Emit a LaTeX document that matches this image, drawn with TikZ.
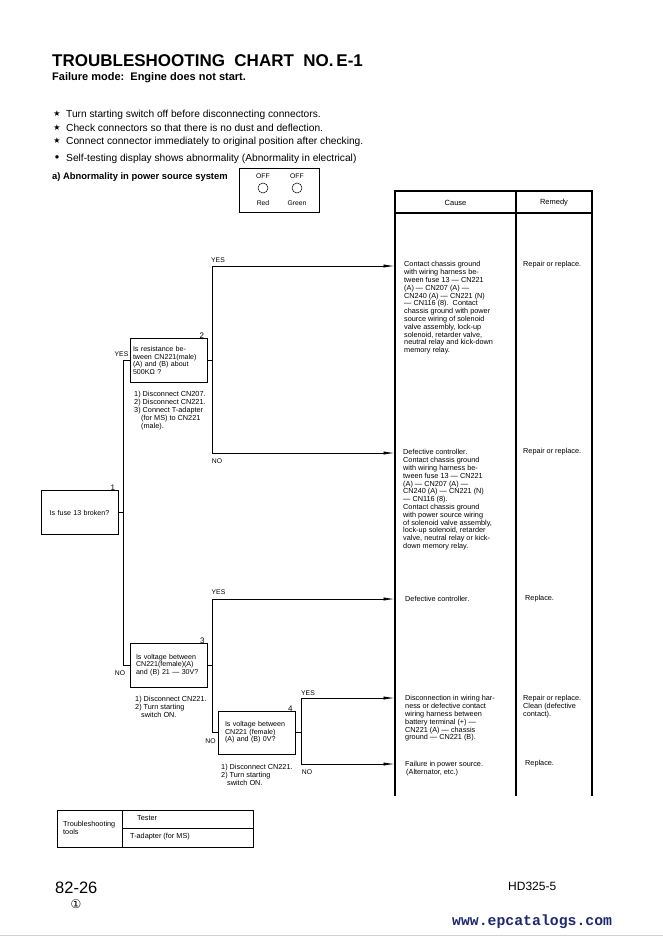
\documentclass[tikz,border=0pt]{standalone}
\usepackage{fontspec}
\setmainfont{Liberation Sans}
\newfontfamily\dejavu{DejaVu Sans}
\newfontfamily\webmono{Liberation Mono}
\usetikzlibrary{arrows.meta}
\definecolor{webblue}{RGB}{30,40,110}
\begin{document}
\begin{tikzpicture}[x=1pt,y=-1pt,
  every node/.style={inner sep=0pt},
  tiny/.style={font=\fontsize{7.3}{7.8}\selectfont, align=left, anchor=north west},
  qbox/.style={draw, line width=0.7pt, minimum width=77pt, minimum height=44pt,
     font=\fontsize{7.1}{7.4}\selectfont, align=left},
  num/.style={font=\fontsize{8}{8}\selectfont, anchor=south east},
  lbl/.style={font=\fontsize{6.8}{7}\selectfont},
  link/.style={line width=0.7pt},
  arr/.style={line width=0.7pt, -{Latex[length=11pt,width=3.2pt]}},
  tbl/.style={line width=1.5pt},
  hdr/.style={font=\fontsize{10.2}{12}\selectfont, anchor=base west},
]
\useasboundingbox (0,0) rectangle (663,937);

% ---- header texts
\node[font=\bfseries\fontsize{17}{20}\selectfont, anchor=base west] (title) at (52,66) {TROUBLESHOOTING\ \ CHART\ \ NO.\,E-1};
\node[font=\bfseries\fontsize{11}{13}\selectfont, anchor=base west] (mode) at (52,80) {Failure mode:\ \ Engine does not start.};

\node[font=\dejavu\fontsize{8}{8}\selectfont] (s1) at (57,113.5) {★};
\node[font=\dejavu\fontsize{8}{8}\selectfont] (s2) at (57,127.5) {★};
\node[font=\dejavu\fontsize{8}{8}\selectfont] (s3) at (57,140.5) {★};
\node[font=\dejavu\fontsize{4.5}{5}\selectfont] (s4) at (57,157.5) {●};
\node[hdr] (t1) at (66,117) {Turn starting switch off before disconnecting connectors.};
\node[hdr] (t2) at (66,131) {Check connectors so that there is no dust and deflection.};
\node[hdr] (t3) at (66,144) {Connect connector immediately to original position after checking.};
\node[hdr] (t4) at (66,161) {Self-testing display shows abnormality (Abnormality in electrical)};
\node[font=\bfseries\fontsize{9.4}{11}\selectfont, anchor=base west] (ta) at (52,179.5) {a)\ Abnormality in power source system};

% ---- lamp box
\node[draw, line width=0.6pt, minimum width=80pt, minimum height=44pt] (lamp) at (279,190) {};
\node[lbl] (off1) at (263,176.5) {OFF};
\node[lbl] (off2) at (297,176.5) {OFF};
\node[draw, circle, line width=0.5pt, minimum size=10pt] (red) at (263,188) {};
\node[draw, circle, line width=0.5pt, minimum size=10pt] (green) at (297,188) {};
\node[lbl] (redl) at (263,203.5) {Red};
\node[lbl] (greenl) at (297,203.5) {Green};

% ---- result table
\draw[tbl] (395,796) -- (395,191) -- (592,191) -- (592,796);
\draw[tbl] (516,191) -- (516,796);
\draw[tbl] (395,213) -- (592,213);
\node[font=\fontsize{7.5}{8}\selectfont] (hc) at (455.5,202.5) {Cause};
\node[font=\fontsize{7.5}{8}\selectfont] (hr) at (554,202.5) {Remedy};

% ---- decision boxes
\node[qbox, align=center, text width=71pt] (b1) at (79.5,512.5) {Is fuse 13 broken?};
\node[num] at ([xshift=-3pt,yshift=-1pt]b1.north east) {1};
\node[qbox, text width=71pt] (b2) at (168.5,360.5) {Is resistance be-\\tween CN221(male)\\(A) and (B) about\\500KΩ ?};
\node[num] at ([xshift=-3pt,yshift=-1pt]b2.north east) {2};
\node[qbox, text width=66pt] (b3) at (169,665) {Is voltage between\\CN221(female)(A)\\and (B) 21 — 30V?};
\node[num] at ([xshift=-3pt,yshift=-1pt]b3.north east) {3};
\node[qbox, text width=64pt, minimum height=43pt] (b4) at (257,732.5) {Is voltage between\\CN221 (female)\\(A) and (B) 0V?};
\node[num] at ([xshift=-3pt,yshift=-1pt]b4.north east) {4};

% instructions
\node[tiny] (i2) at (134,391.4) {1) Disconnect CN207.\\2) Disconnect CN221.\\3) Connect T-adapter\\\hspace*{7pt}(for MS) to CN221\\\hspace*{7pt}(male).};
\node[tiny] (i3) at (135,696.4) {1) Disconnect CN221.\\2) Turn starting\\\hspace*{6pt}switch ON.};
\node[tiny] (i4) at (221,764.4) {1) Disconnect CN221.\\2) Turn starting\\\hspace*{6pt}switch ON.};

% ---- junction coordinates
\coordinate (v1t) at (123.5,360.5);
\coordinate (v1b) at (123.5,665);
\coordinate (v2t) at (212,266);
\coordinate (v2b) at (212,453);
\coordinate (v3t) at (212,599);
\coordinate (v3b) at (212,732.5);
\coordinate (v4t) at (301,698);
\coordinate (v4b) at (301,764);
\coordinate (e1) at (394.5,266);
\coordinate (e2) at (394.5,453);
\coordinate (e3) at (394.5,599);
\coordinate (e4) at (394.5,698);
\coordinate (e5) at (394.5,764);

% ---- connectors
\draw[link] (b1.east) -- (b1.east -| v1t);
\draw[link] (b2.west) -- (v1t) -- (v1b) -- (b3.west);
\draw[link] (b2.east) -- (b2.east -| v2t);
\draw[arr] (v2b) -- (v2t) -- (e1);
\draw[arr] (v2b) -- (e2);
\draw[link] (b3.east) -- (b3.east -| v3t);
\draw[arr] (v3b) -- (v3t) -- (e3);
\draw[link] (v3b) -- (b4.west);
\draw[link] (b4.east) -- (b4.east -| v4t);
\draw[arr] (v4b) -- (v4t) -- (e4);
\draw[arr] (v4b) -- (e5);

% ---- branch labels
\node[lbl] (y1) at (121.5,354) {YES};
\node[lbl] (n1) at (120,673) {NO};
\node[lbl] (y2) at (218,260) {YES};
\node[lbl] (n2) at (217,461) {NO};
\node[lbl] (y3) at (218.5,592) {YES};
\node[lbl] (n3) at (210.5,741) {NO};
\node[lbl] (y4) at (308,693) {YES};
\node[lbl] (n4) at (307,772) {NO};

% ---- causes
\node[tiny] (c1) at (404,261.4) {Contact chassis ground\\with wiring harness be-\\tween fuse 13 — CN221\\(A) — CN207 (A) —\\CN240 (A) — CN221 (N)\\— CN116 (8).\ \ Contact\\chassis ground with power\\source wiring of solenoid\\valve assembly, lock-up\\solenoid, retarder valve,\\neutral relay and kick-down\\memory relay.};
\node[tiny] (c2) at (403,449.4) {Defective controller.\\Contact chassis ground\\with wiring harness be-\\tween fuse 13 — CN221\\(A) — CN207 (A) —\\CN240 (A) — CN221 (N)\\— CN116 (8).\\Contact chassis ground\\with power source wiring\\of solenoid valve assembly,\\lock-up solenoid, retarder\\valve, neutral relay or kick-\\down memory relay.};
\node[tiny] (c3) at (405,596.4) {Defective controller.};
\node[tiny] (c4) at (405,695.4) {Disconnection in wiring har-\\ness or defective contact\\wiring harness between\\battery terminal (+) —\\CN221 (A) — chassis\\ground — CN221 (B).};
\node[tiny] (c5) at (405,761.4) {Failure in power source.\\\hspace*{1pt}(Alternator, etc.)};

% ---- remedies
\node[tiny] (r1) at (523,261.4) {Repair or replace.};
\node[tiny] (r2) at (523,448.4) {Repair or replace.};
\node[tiny] (r3) at (525,595.4) {Replace.};
\node[tiny] (r4) at (523,695.4) {Repair or replace.\\Clean (defective\\contact).};
\node[tiny] (r5) at (525,760.4) {Replace.};

% ---- tools table
\draw[line width=0.9pt] (57,810) rectangle (253,847);
\draw[line width=0.8pt] (122,810) -- (122,847);
\draw[line width=0.8pt] (122,828) -- (253,828);
\node[tiny] (tt) at (63,821.2) {Troubleshooting\\tools};
\node[tiny] (tt1) at (137,815.4) {Tester};
\node[tiny] (tt2) at (130,833.4) {T-adapter (for MS)};

% ---- footer
\node[font=\fontsize{16.5}{18}\selectfont, anchor=base west] (pg) at (55,893) {82-26};
\node[font=\dejavu\fontsize{12}{13}\selectfont] (rev) at (76,904) {①};
\node[font=\fontsize{12}{14}\selectfont, anchor=base west] (model) at (508,890.5) {HD325-5};
\node[font=\webmono\bfseries\fontsize{14.8}{16}\selectfont, text=webblue, anchor=base west] (web) at (452,925) {www.epcatalogs.com};
\draw[gray!35, line width=1.5pt] (0,935.5) -- (663,935.5);
\end{tikzpicture}
\end{document}
